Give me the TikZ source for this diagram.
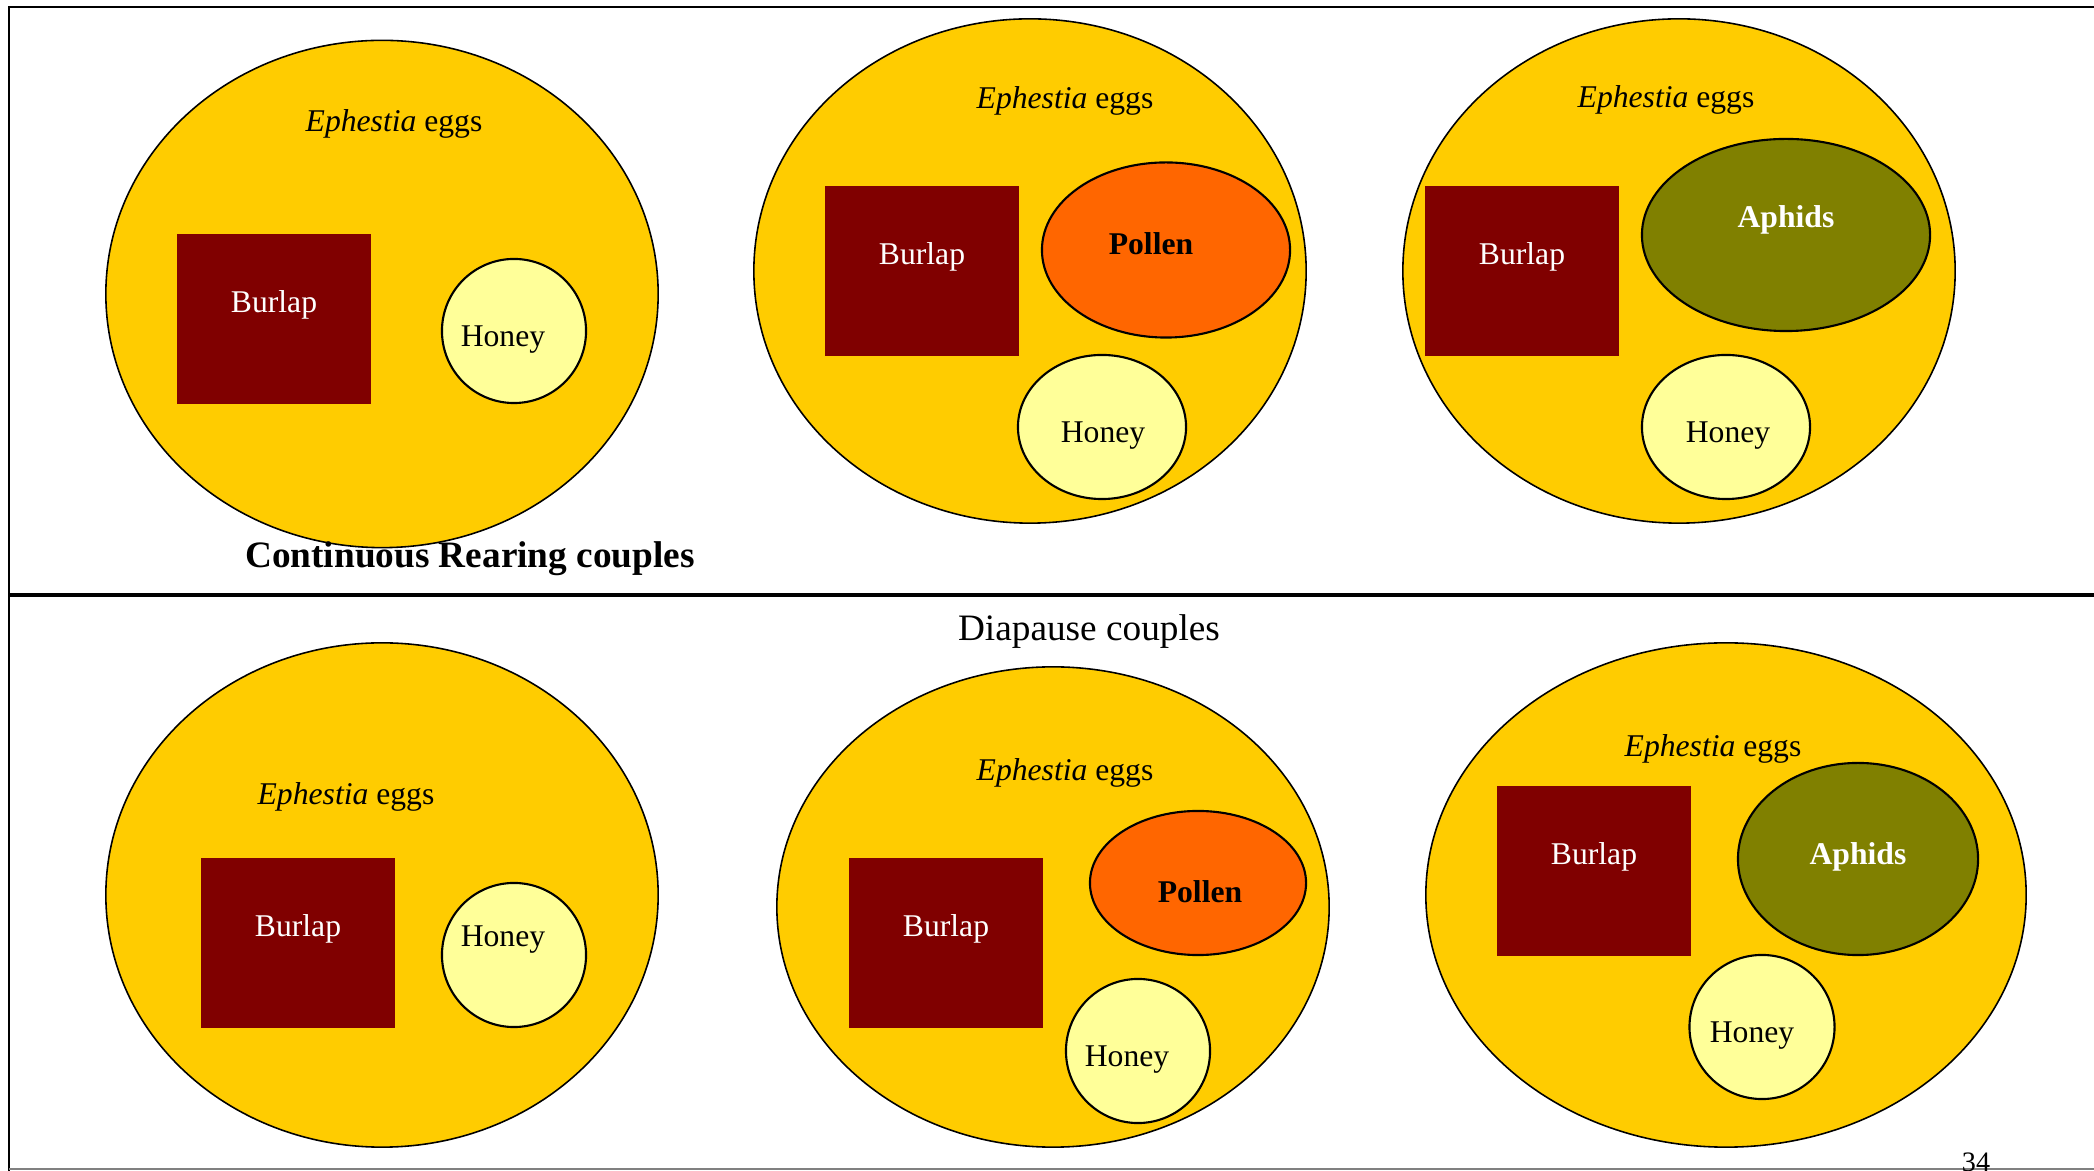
\documentclass[tikz,border=0pt]{standalone}
\usepackage{fontspec}
\setmainfont{Liberation Serif}
\usetikzlibrary{shapes.geometric}
\definecolor{dishyellow}{HTML}{FFCC00}
\definecolor{burlapred}{HTML}{800000}
\definecolor{honeyyellow}{HTML}{FFFF99}
\definecolor{pollenorange}{HTML}{FF6600}
\definecolor{aphidolive}{HTML}{808000}
\begin{document}
\begin{tikzpicture}[x=0.01cm,y=-0.01cm,font=\fontsize{9}{11}\selectfont,
        dish/.style={ellipse,draw,fill=dishyellow,line width=0.45pt,inner sep=0pt},
        burlap/.style={rectangle,fill=burlapred,minimum width=1.93cm,minimum height=1.69cm,inner sep=0pt},
        honey/.style={ellipse,draw,fill=honeyyellow,line width=0.6pt,inner sep=0pt},
        pollen/.style={ellipse,draw,fill=pollenorange,line width=0.6pt,inner sep=0pt},
        aphids/.style={ellipse,draw,fill=aphidolive,line width=0.6pt,inner sep=0pt},
        whitelabel/.style={text=white,inner sep=0pt,yshift=-0.03cm},
        blacklabel/.style={inner sep=0pt,yshift=-0.03cm},
        heading/.style={inner sep=0pt,yshift=-0.03cm,font=\fontsize{10.6}{13}\selectfont}]
                \useasboundingbox (0,0) rectangle (2094,1171);
                % slide frame
                \draw[line width=0.6pt] (2094,7) -- (9,7) -- (9,1171);
                \draw[line width=1.4pt] (9,595) -- (2094,595);
                \draw[gray,line width=0.4pt] (9,1169) -- (2094,1169);
                % dishes
                \node[dish,minimum width=5.52cm,minimum height=5.07cm] (dishA) at (382,294) {};
                \node[dish,minimum width=5.52cm,minimum height=5.04cm] (dishB) at (1030,271) {};
                \node[dish,minimum width=5.52cm,minimum height=5.04cm] (dishC) at (1679,271) {};
                \node[dish,minimum width=5.52cm,minimum height=5.04cm] (dishD) at (382,895) {};
                \node[dish,minimum width=5.52cm,minimum height=4.80cm] (dishE) at (1053,907) {};
                \node[dish,minimum width=6.00cm,minimum height=5.04cm] (dishF) at (1726,895) {};
                \foreach \x/\y [count=\i] in {394/121,1065/98,1666/97,346/794,1065/770,1713/746}{
                    \node[blacklabel] (eggs\i) at (\x,\y) {\textit{Ephestia} eggs};
                }
                % burlap squares
                \foreach \x/\y [count=\i] in {274/319,922/271,1522/271,298/943,946/943,1594/871}{
                    \node[burlap] (burlap\i) at (\x,\y) {};
                    \node[whitelabel] (burlaplabel\i) at (\x,\y-17) {Burlap};
                }
                % food
                \node[pollen,minimum width=2.48cm,minimum height=1.75cm] (pollenB) at (1166,250) {};
                \node[blacklabel] (pollenlabelB) at (1151,241) {\bfseries Pollen};
                \node[pollen,minimum width=2.16cm,minimum height=1.44cm] (pollenE) at (1198,883) {};
                \node[blacklabel] (pollenlabelE) at (1200,889) {\bfseries Pollen};
                \node[aphids,minimum width=2.88cm,minimum height=1.92cm] (aphidsC) at (1786,235) {};
                \node[whitelabel] (aphidslabelC) at (1786,217) {\bfseries Aphids};
                \node[aphids,minimum width=2.40cm,minimum height=1.92cm] (aphidsF) at (1858,859) {};
                \node[whitelabel] (aphidslabelF) at (1858,854) {\bfseries Aphids};
                \foreach \x/\y/\w/\tx/\ty [count=\i] in {514/331/1.44/503/337,1102/427/1.68/1103/433,1726/427/1.68/1728/433,
                        514/955/1.44/503/937,1138/1051/1.44/1127/1057,1762/1027/1.45/1752/1033}{
                    \node[honey,minimum width=\w cm,minimum height=1.44cm] (honey\i) at (\x,\y) {};
                    \node[blacklabel] (honeylabel\i) at (\tx,\ty) {Honey};
                }
                % headings
                \node[heading] (rearing) at (470,556) {\bfseries Continuous Rearing couples};
                \node[heading] (diapause) at (1089,629) {Diapause couples};
                \node[inner sep=0pt,font=\fontsize{8}{10}\selectfont,anchor=base] (pagenum) at (1976,1172) {34};
            \end{tikzpicture}
\end{document}
